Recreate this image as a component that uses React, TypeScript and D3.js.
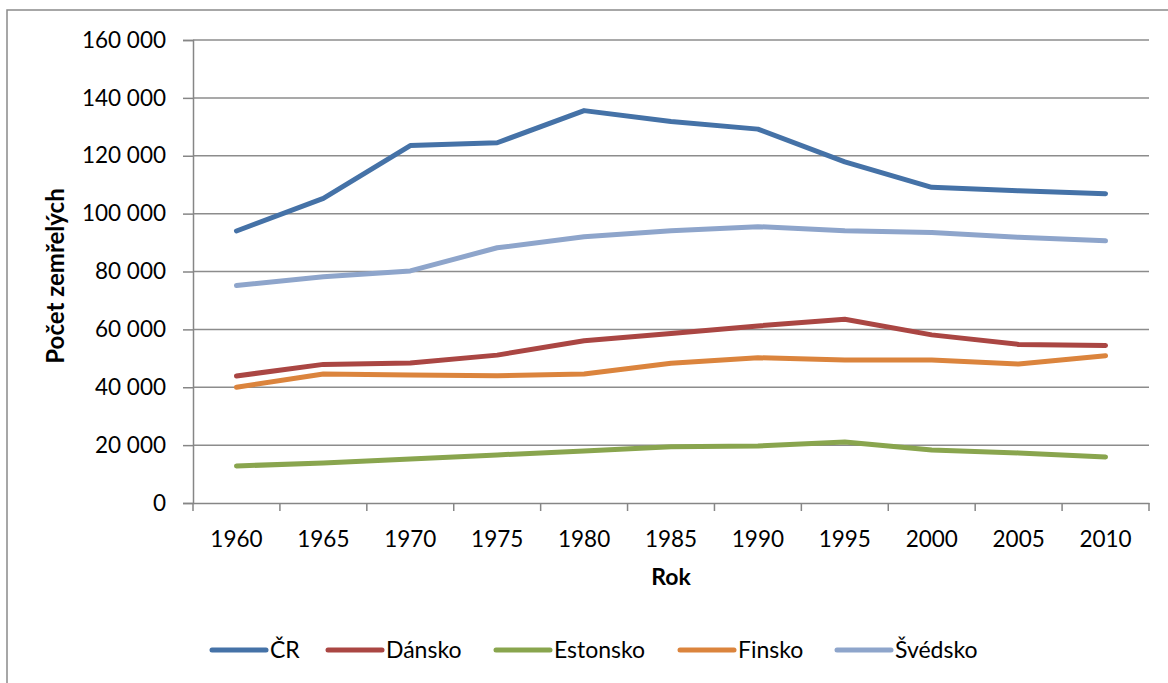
import React, { useEffect, useRef } from "react";
import * as d3 from "d3";

const years = ["1960", "1965", "1970", "1975", "1980", "1985", "1990", "1995", "2000", "2005", "2010"];

const cr = [94000, 105300, 123500, 124500, 135600, 131800, 129200, 117900, 109100, 107900, 106900];
const dansko = [43900, 47900, 48400, 51100, 56100, 58600, 61200, 63500, 58100, 54800, 54400];
const estonsko = [12800, 13800, 15200, 16600, 18000, 19400, 19700, 21100, 18300, 17300, 15900];
const finsko = [40000, 44600, 44200, 44000, 44600, 48300, 50200, 49400, 49400, 48000, 50900];
const svedsko = [75200, 78200, 80200, 88200, 92000, 94100, 95500, 94100, 93500, 91800, 90600];

const yTicks = [0, 20000, 40000, 60000, 80000, 100000, 120000, 140000, 160000];

const seriesNames = ["ČR", "Dánsko", "Estonsko", "Finsko", "Švédsko"];
const seriesColors = ["#4572A7", "#AA4643", "#89A54E", "#DB843D", "#8EA5CB"];

const FONT = "Lato, 'Open Sans', sans-serif";

const Chart: React.FC = () => {
  const ref = useRef<SVGSVGElement | null>(null);

  useEffect(() => {
    if (!ref.current) return;
    const svg = d3.select(ref.current);
    svg.selectAll("*").remove();

    const left = 193;
    const right = 1149;
    const top = 40;
    const bottom = 503;

    const x = d3.scaleBand<string>().domain(years).range([left, right]).padding(0);
    const y = d3.scaleLinear().domain([0, 160000]).range([bottom, top]);

    // outer chart border (runs off the right/bottom edge like the source)
    svg
      .append("rect")
      .attr("x", 7)
      .attr("y", 10)
      .attr("width", 1200)
      .attr("height", 700)
      .attr("fill", "white")
      .attr("stroke", "#8a8a8a")
      .attr("stroke-width", 1.5);

    // gridlines
    svg
      .append("g")
      .selectAll("line")
      .data(yTicks.filter((t) => t > 0))
      .enter()
      .append("line")
      .attr("x1", left)
      .attr("x2", right)
      .attr("y1", (d) => y(d))
      .attr("y2", (d) => y(d))
      .attr("stroke", "#8c8c8c")
      .attr("stroke-width", 1.5);

    // y axis
    const fmt = (v: number) => d3.format(",")(v).replace(/,/g, " ");
    const yAxis = svg
      .append("g")
      .attr("transform", `translate(${left},0)`)
      .call(
        d3
          .axisLeft(y)
          .tickValues(yTicks)
          .tickSize(10)
          .tickPadding(17)
          .tickFormat((d) => fmt(d as number))
      );
    yAxis.select(".domain").attr("stroke", "#868686").attr("stroke-width", 1.5);
    yAxis.selectAll(".tick line").attr("stroke", "#868686").attr("stroke-width", 1.5);
    yAxis
      .selectAll(".tick text")
      .attr("fill", "#000")
      .style("font-family", FONT)
      .style("font-size", "22.5px");

    // x axis
    const xAxis = svg
      .append("g")
      .attr("transform", `translate(0,${bottom})`)
      .call(d3.axisBottom(x).tickSize(0).tickPadding(28));
    xAxis.select(".domain").attr("stroke", "#868686").attr("stroke-width", 1.5);
    xAxis
      .selectAll(".tick text")
      .attr("fill", "#000")
      .style("font-family", FONT)
      .style("font-size", "22.5px");

    // x tick marks sit on the category boundaries
    const bounds = years.map((yr) => x(yr)!).concat([right]);
    svg
      .append("g")
      .selectAll("line")
      .data(bounds)
      .enter()
      .append("line")
      .attr("x1", (d) => d)
      .attr("x2", (d) => d)
      .attr("y1", bottom)
      .attr("y2", bottom + 8)
      .attr("stroke", "#868686")
      .attr("stroke-width", 1.5);

    // series lines
    const allSeries = [cr, dansko, estonsko, finsko, svedsko];
    const line = d3
      .line<number>()
      .x((_, i) => x(years[i])! + x.bandwidth() / 2)
      .y((d) => y(d));

    allSeries.forEach((s, i) => {
      svg
        .append("path")
        .datum(s)
        .attr("fill", "none")
        .attr("stroke", seriesColors[i])
        .attr("stroke-width", 5)
        .attr("stroke-linecap", "round")
        .attr("stroke-linejoin", "round")
        .attr("d", line);
    });

    // axis titles
    svg
      .append("text")
      .attr("x", (left + right) / 2)
      .attr("y", 585)
      .attr("text-anchor", "middle")
      .style("font-family", FONT)
      .style("font-size", "23px")
      .style("font-weight", "bold")
      .text("Rok");

    svg
      .append("text")
      .attr("transform", `translate(64,276) rotate(-90)`)
      .attr("text-anchor", "middle")
      .style("font-family", FONT)
      .style("font-size", "24px")
      .style("font-weight", "bold")
      .text("Počet zemřelých");

    // legend
    const legendX = [212, 328, 496, 680, 837];
    const legendY = 650;
    const lg = svg.append("g");
    seriesNames.forEach((name, i) => {
      lg.append("line")
        .attr("x1", legendX[i])
        .attr("x2", legendX[i] + 54)
        .attr("y1", legendY)
        .attr("y2", legendY)
        .attr("stroke", seriesColors[i])
        .attr("stroke-width", 5)
        .attr("stroke-linecap", "round");
      lg.append("text")
        .attr("x", legendX[i] + 58)
        .attr("y", legendY)
        .attr("dy", "0.36em")
        .style("font-family", FONT)
        .style("font-size", "23px")
        .text(name);
    });
  }, []);

  return (
    <svg
      ref={ref}
      width={1168}
      height={683}
      style={{ position: "absolute", left: 0, top: 0, background: "white" }}
    />
  );
};

export default function App() {
  return <Chart />;
}
